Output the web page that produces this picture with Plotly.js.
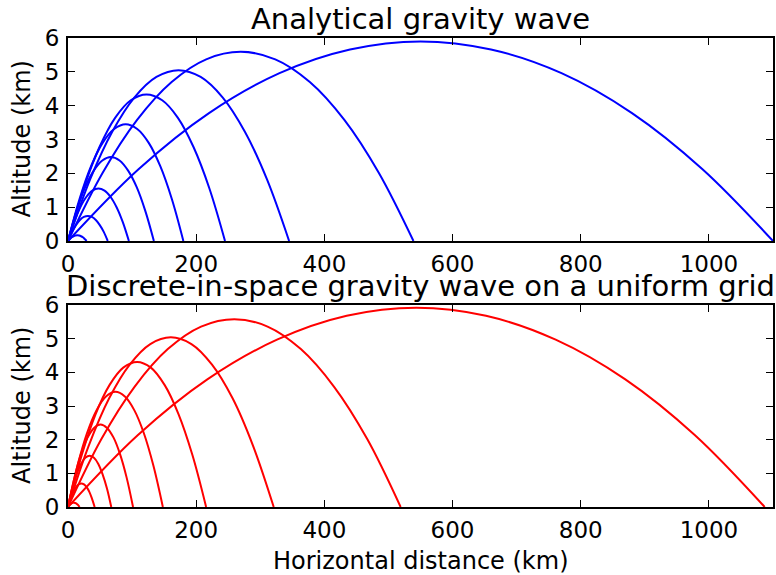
<!DOCTYPE html>
<html>
<head>
<meta charset="utf-8">
<script src="https://cdn.plot.ly/plotly-3.0.1.min.js"></script>
<style>
html,body{margin:0;padding:0;background:#fff;}
#chart{width:776px;height:575px;}
</style>
</head>
<body>
<div id="chart"></div>
<script>
// ---- Data (km) ----
const titleTop = "Analytical gravity wave";
const titleBottom = "Discrete-in-space gravity wave on a uniform grid";
const xLabel = "Horizontal distance (km)";
const yLabel = "Altitude (km)";
const xTickVals = [0, 200, 400, 600, 800, 1000];
const yTickVals = [0, 1, 2, 3, 4, 5, 6];

// Analytical (blue) ray paths
const analyticalX = [
  [0, 2.9, 5.8, 8.7, 11.6, 14.5, 17.4, 20.3, 23.2, 26.1, 29],
  [0, 6.2, 12.4, 18.6, 24.8, 31, 37.2, 43.4, 49.6, 55.8, 62],
  [0, 9.5, 19, 28.5, 38, 47.5, 57, 66.5, 76, 85.5, 95],
  [0, 13.4, 26.8, 40.2, 53.6, 67, 80.4, 93.8, 107.2, 120.6, 134],
  [0, 18, 36, 54, 72, 90, 108, 126, 144, 162, 180],
  [0, 24.5, 49, 73.5, 98, 122.5, 147, 171.5, 196, 220.5, 245],
  [0, 34.5, 69, 103.5, 138, 172.5, 207, 241.5, 276, 310.5, 345],
  [0, 53.9, 107.8, 161.7, 215.6, 269.5, 323.4, 377.3, 431.2, 485.1, 539],
  [0, 110, 220, 330, 440, 550, 660, 770, 880, 990, 1100]
];
const analyticalY = [
  [0, 0.06, 0.11, 0.14, 0.16, 0.17, 0.16, 0.14, 0.11, 0.06, 0],
  [0, 0.27, 0.47, 0.62, 0.71, 0.74, 0.71, 0.62, 0.47, 0.27, 0],
  [0, 0.56, 0.99, 1.30, 1.49, 1.55, 1.49, 1.30, 0.99, 0.56, 0],
  [0, 0.89, 1.59, 2.08, 2.38, 2.48, 2.38, 2.08, 1.59, 0.89, 0],
  [0, 1.24, 2.21, 2.90, 3.31, 3.45, 3.31, 2.90, 2.21, 1.24, 0],
  [0, 1.56, 2.77, 3.64, 4.16, 4.33, 4.16, 3.64, 2.77, 1.56, 0],
  [0, 1.82, 3.23, 4.24, 4.85, 5.05, 4.85, 4.24, 3.23, 1.82, 0],
  [0, 2.01, 3.58, 4.70, 5.37, 5.59, 5.37, 4.70, 3.58, 2.01, 0],
  [0, 2.12, 3.78, 4.96, 5.66, 5.90, 5.66, 4.96, 3.78, 2.12, 0]
];

// Discrete-in-space (red) ray paths
const discreteX = [
  [0, 1.8, 3.6, 5.4, 7.2, 9, 10.8, 12.6, 14.4, 16.2, 18],
  [0, 4.2, 8.3, 12.5, 16.6, 20.8, 25, 29.1, 33.3, 37.4, 41.6],
  [0, 6.8, 13.5, 20.3, 27, 33.8, 40.5, 47.3, 54, 60.8, 67.5],
  [0, 10.2, 20.3, 30.5, 40.6, 50.8, 60.9, 71.1, 81.2, 91.4, 101.5],
  [0, 14.8, 29.6, 44.4, 59.2, 74, 88.8, 103.6, 118.4, 133.2, 148],
  [0, 21.6, 43.1, 64.7, 86.2, 107.8, 129.3, 150.9, 172.4, 194, 215.5],
  [0, 32.1, 64.2, 96.3, 128.4, 160.5, 192.6, 224.7, 256.8, 288.9, 321],
  [0, 51.9, 103.8, 155.7, 207.6, 259.5, 311.4, 363.3, 415.2, 467.1, 519],
  [0, 108.7, 217.4, 326.1, 434.8, 543.5, 652.2, 760.9, 869.6, 978.3, 1087]
];
const discreteY = [
  [0, 0.05, 0.08, 0.11, 0.12, 0.13, 0.12, 0.11, 0.08, 0.05, 0],
  [0, 0.25, 0.45, 0.59, 0.67, 0.70, 0.67, 0.59, 0.45, 0.25, 0],
  [0, 0.55, 0.97, 1.28, 1.46, 1.52, 1.46, 1.28, 0.97, 0.55, 0],
  [0, 0.88, 1.57, 2.06, 2.35, 2.45, 2.35, 2.06, 1.57, 0.88, 0],
  [0, 1.23, 2.19, 2.87, 3.28, 3.42, 3.28, 2.87, 2.19, 1.23, 0],
  [0, 1.55, 2.76, 3.62, 4.14, 4.31, 4.14, 3.62, 2.76, 1.55, 0],
  [0, 1.81, 3.23, 4.23, 4.84, 5.04, 4.84, 4.23, 3.23, 1.81, 0],
  [0, 2.01, 3.57, 4.69, 5.36, 5.58, 5.36, 4.69, 3.57, 2.01, 0],
  [0, 2.13, 3.79, 4.97, 5.68, 5.92, 5.68, 4.97, 3.79, 2.13, 0]
];

// ---- Traces ----
const traces = [];
analyticalX.forEach((xs, i) => {
  traces.push({x: xs, y: analyticalY[i], type: 'scatter', mode: 'lines',
    line: {color: '#0000ff', width: 2, shape: 'spline', smoothing: 1},
    xaxis: 'x', yaxis: 'y', hoverinfo: 'skip', showlegend: false});
});
discreteX.forEach((xs, i) => {
  traces.push({x: xs, y: discreteY[i], type: 'scatter', mode: 'lines',
    line: {color: '#ff0000', width: 2, shape: 'spline', smoothing: 1},
    xaxis: 'x2', yaxis: 'y2', hoverinfo: 'skip', showlegend: false});
});

const FONT = 'DejaVu Sans, sans-serif';
function xAxis(anchor) {
  return {anchor: anchor, domain: [0, 1], range: [0, 1100], tickvals: xTickVals,
    ticks: 'inside', ticklen: 7, tickwidth: 1, tickcolor: '#000',
    showline: true, linecolor: '#000', linewidth: 2, mirror: 'ticks',
    showgrid: false, zeroline: false, ticklabelstandoff: 1,
    tickfont: {family: FONT, size: 23, color: '#000'}};
}
function yAxis(anchor, dom) {
  return {anchor: anchor, domain: dom, range: [0, 6], tickvals: yTickVals,
    ticks: 'inside', ticklen: 7, tickwidth: 1, tickcolor: '#000',
    showline: true, linecolor: '#000', linewidth: 2, mirror: 'ticks',
    showgrid: false, zeroline: false, ticklabelstandoff: 2,
    tickfont: {family: FONT, size: 23, color: '#000'}};
}

const topDom = [0.5672, 1];
const botDom = [0, 0.4307];

const layout = {
  width: 776, height: 575,
  margin: {l: 68, r: 3, t: 38, b: 68, pad: 0},
  paper_bgcolor: '#fff', plot_bgcolor: '#fff',
  font: {family: FONT, color: '#000'},
  xaxis: xAxis('y'),
  yaxis: yAxis('x', topDom),
  xaxis2: xAxis('y2'),
  yaxis2: yAxis('x2', botDom),
  annotations: [
    {text: titleTop, xref: 'paper', yref: 'paper', x: 0.5, y: 1, xanchor: 'center', yanchor: 'bottom',
     yshift: 0, showarrow: false, font: {family: FONT, size: 29, color: '#000'}},
    {text: titleBottom, xref: 'paper', yref: 'paper', x: 0.5, y: botDom[1], xanchor: 'center', yanchor: 'bottom',
     yshift: 0, showarrow: false, font: {family: FONT, size: 29, color: '#000'}},
    {text: xLabel, xref: 'paper', yref: 'paper', x: 0.5, y: 0, xanchor: 'center', yanchor: 'middle',
     yshift: -54, showarrow: false, font: {family: FONT, size: 24, color: '#000'}},
    {text: yLabel, xref: 'paper', yref: 'paper', x: 0, y: (topDom[0] + topDom[1]) / 2, xanchor: 'center', yanchor: 'middle',
     xshift: -46, textangle: -90, showarrow: false, font: {family: FONT, size: 24, color: '#000'}},
    {text: yLabel, xref: 'paper', yref: 'paper', x: 0, y: (botDom[0] + botDom[1]) / 2, xanchor: 'center', yanchor: 'middle',
     xshift: -46, textangle: -90, showarrow: false, font: {family: FONT, size: 24, color: '#000'}}
  ]
};

Plotly.newPlot('chart', traces, layout, {staticPlot: true, displayModeBar: false});
</script>
</body>
</html>
